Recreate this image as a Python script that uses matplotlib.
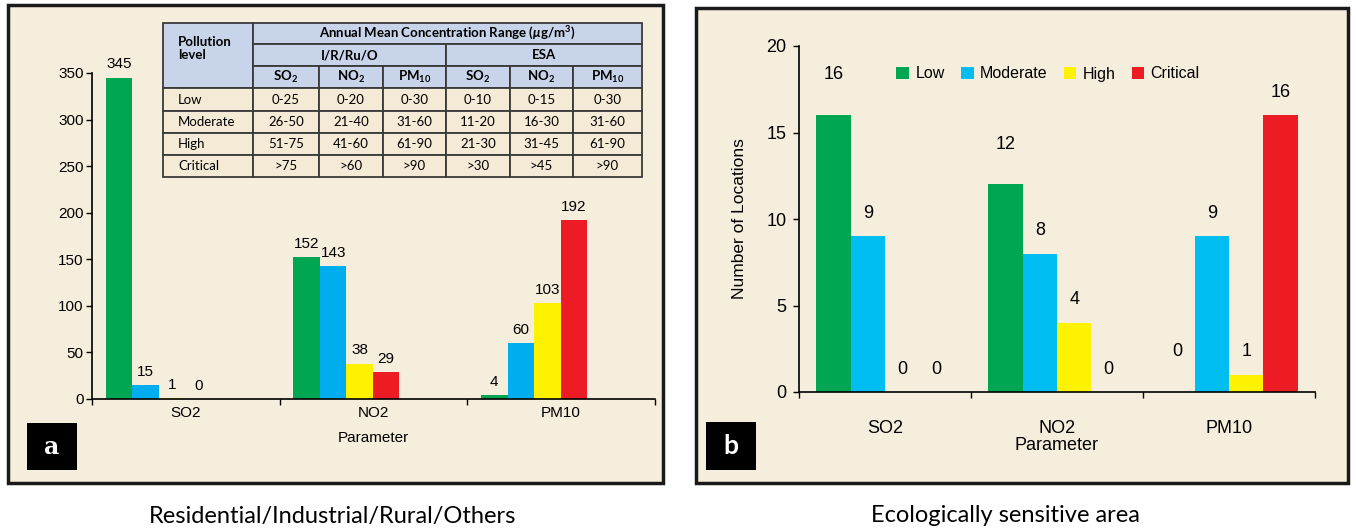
import numpy as np
import matplotlib.pyplot as plt
from matplotlib.patches import Rectangle, Patch

# datos
parametros = ['SO2', 'NO2', 'PM10']
niveles = ['Low', 'Moderate', 'High', 'Critical']

# a: Residential/Industrial/Rural/Others (filas = nivel, columnas = parametro)
valores_a = [[345, 152, 4],
             [15, 143, 60],
             [1, 38, 103],
             [0, 29, 192]]

# b: Ecologically sensitive area
valores_b = [[16, 12, 0],
             [9, 8, 9],
             [0, 4, 1],
             [0, 0, 16]]

# tabla de rangos
tabla_niveles = ['Low', 'Moderate', 'High', 'Critical']
tabla_cols = [r'SO$_\mathbf{2}$', r'NO$_\mathbf{2}$', r'PM$_\mathbf{10}$'] * 2
tabla_valores = [['0-25', '0-20', '0-30', '0-10', '0-15', '0-30'],
                 ['26-50', '21-40', '31-60', '11-20', '16-30', '31-60'],
                 ['51-75', '41-60', '61-90', '21-30', '31-45', '61-90'],
                 ['>75', '>60', '>90', '>30', '>45', '>90']]

colores_a = ['#00A651', '#00AEEF', '#FFF200', '#ED1C24']
colores_b = ['#00A651', '#00BEF2', '#FFF200', '#ED1C24']

plt.rcParams['font.family'] = ['Liberation Sans', 'DejaVu Sans']
plt.rcParams['mathtext.fontset'] = 'custom'
plt.rcParams['mathtext.rm'] = 'Lato'
plt.rcParams['mathtext.bf'] = 'Lato:bold'
plt.rcParams['mathtext.it'] = 'Lato:bold:italic'

W, H = 1356, 531
fig = plt.figure(figsize=(W / 100, H / 100), dpi=100)
fig.patch.set_facecolor('white')

crema = '#F6EEDC'


def caja(x0, y0, x1, y1, **kw):
    # rectangulo en pixeles de la figura (y hacia abajo)
    r = Rectangle((x0 / W, 1 - y1 / H), (x1 - x0) / W, (y1 - y0) / H,
                  transform=fig.transFigure, **kw)
    fig.add_artist(r)
    return r


# marcos de los paneles
caja(8, 5, 663, 483, facecolor=crema, edgecolor='#1a1a1a', lw=2.5, zorder=-2)
caja(696, 8, 1348, 483, facecolor=crema, edgecolor='#1a1a1a', lw=2.5, zorder=-2)

# etiquetas a / b
caja(27, 423, 77, 470, facecolor='black', edgecolor='none', zorder=-1)
caja(706, 422, 756, 470, facecolor='black', edgecolor='none', zorder=-1)
fig.text(52 / W, 1 - 447 / H, 'a', color='white', fontsize=17, fontweight='bold',
         family='DejaVu Serif', ha='center', va='center')
fig.text(731 / W, 1 - 446 / H, 'b', color='white', fontsize=19, fontweight='bold',
         family='Lato', ha='center', va='center')

# textos inferiores
fig.text(333 / W, 1 - 517 / H, 'Residential/Industrial/Rural/Others', fontsize=17,
         family='Lato', ha='center', va='center')
fig.text(1005 / W, 1 - 516 / H, 'Ecologically sensitive area', fontsize=17,
         family='Lato', ha='center', va='center')


def estilo_ejes(ax, ylim, yticks, fs, pad_x):
    ax.set_facecolor('none')
    for s in ['top', 'right']:
        ax.spines[s].set_visible(False)
    ax.spines['left'].set_linewidth(1.2)
    ax.spines['bottom'].set_linewidth(1.2)
    ax.set_xlim(-0.5, 2.5)
    ax.set_ylim(*ylim)
    ax.set_yticks(yticks)
    ax.tick_params(axis='y', direction='out', length=4, width=1, labelsize=fs, pad=2)
    ax.set_xticks([-0.5, 0.5, 1.5, 2.5])
    ax.set_xticklabels([])
    ax.tick_params(axis='x', which='major', direction='out', length=4, width=1)
    ax.set_xticks(np.arange(len(parametros)), minor=True)
    ax.set_xticklabels(parametros, minor=True)
    ax.tick_params(axis='x', which='minor', length=0, labelsize=fs, pad=pad_x)


# panel a
ax1 = fig.add_axes([92 / W, 1 - 399 / H, (655 - 92) / W, (399 - 73) / H])
x = np.arange(len(parametros))
ancho_a = 0.141
desp_a = [-0.356, -0.215, -0.074, 0.067]
for i, nivel in enumerate(niveles):
    ax1.bar(x + desp_a[i], valores_a[i], ancho_a, color=colores_a[i], label=nivel)
    for xi, v in zip(x + desp_a[i], valores_a[i]):
        ax1.annotate(str(v), (xi, v), xytext=(0, 9.5), textcoords='offset points',
                     ha='center', va='center', fontsize=11, annotation_clip=False)
estilo_ejes(ax1, (0, 350), np.arange(0, 351, 50), 11, 5)
ax1.set_xlabel('Parameter', fontsize=11, labelpad=8)

# panel b
ax2 = fig.add_axes([799 / W, 1 - 392 / H, (1315 - 799) / W, (392 - 46) / H])
ancho_b = 0.2
desp_b = [-0.3, -0.1, 0.1, 0.3]
for i, nivel in enumerate(niveles):
    ax2.bar(x + desp_b[i], valores_b[i], ancho_b, color=colores_b[i], label=nivel)
    off = 29 if i == 0 else 16.5
    for xi, v in zip(x + desp_b[i], valores_b[i]):
        ax2.annotate(str(v), (xi, v), xytext=(0, off), textcoords='offset points',
                     ha='center', va='center', fontsize=13, annotation_clip=False)
estilo_ejes(ax2, (0, 20), np.arange(0, 21, 5), 13, 20)
ax2.tick_params(axis='y', pad=5)
ax2.set_xlabel('Parameter', fontsize=13, labelpad=0)
ax2.set_ylabel('Number of Locations', fontsize=12.5, labelpad=14)

handles = [Patch(facecolor=c, edgecolor='none') for c in colores_b]
ax2.legend(handles, niveles, loc='center left', bbox_to_anchor=(882 / W, 1 - 74 / H),
           bbox_transform=fig.transFigure, ncol=4, frameon=False, fontsize=11.5,
           handlelength=0.8, handleheight=0.8, handletextpad=0.4, columnspacing=1.0)

# tabla
tx = [163, 253, 319, 383, 446, 510, 573, 642]
ty = [23, 44, 66, 88, 111, 133, 155, 177]
axt = fig.add_axes([163 / W, 1 - 177 / H, (642 - 163) / W, (177 - 23) / H], zorder=3)
axt.set_xlim(163, 642)
axt.set_ylim(177, 23)
axt.axis('off')
azul = '#C8D4EA'
celda = '#F5EAD6'
borde = '#3a3a3a'
lw = 1.3


def celda_rect(x0, y0, x1, y1, fc):
    axt.add_patch(Rectangle((x0, y0), x1 - x0, y1 - y0, facecolor=fc, edgecolor=borde,
                            lw=lw, clip_on=False))


celda_rect(tx[0], ty[0], tx[1], ty[3], azul)
celda_rect(tx[1], ty[0], tx[7], ty[1], azul)
celda_rect(tx[1], ty[1], tx[4], ty[2], azul)
celda_rect(tx[4], ty[1], tx[7], ty[2], azul)
for j in range(6):
    celda_rect(tx[j + 1], ty[2], tx[j + 2], ty[3], azul)
for r in range(4):
    for c in range(7):
        celda_rect(tx[c], ty[r + 3], tx[c + 1], ty[r + 4], celda)

fs_t = 9.5
axt.text(178, (ty[0] + ty[3]) / 2 - 7, 'Pollution\nlevel', fontsize=fs_t, family='Lato',
         fontweight='bold', ha='left', va='center', linespacing=1.1)
axt.text((tx[1] + tx[7]) / 2, (ty[0] + ty[1]) / 2,
         r'Annual Mean Concentration Range ($\mu$g/m$^\mathbf{3}$)', fontsize=fs_t,
         family='Lato', fontweight='bold', ha='center', va='center')
axt.text((tx[1] + tx[4]) / 2, (ty[1] + ty[2]) / 2, 'I/R/Ru/O', fontsize=fs_t,
         family='Lato', fontweight='bold', ha='center', va='center')
axt.text((tx[4] + tx[7]) / 2, (ty[1] + ty[2]) / 2, 'ESA', fontsize=fs_t,
         family='Lato', fontweight='bold', ha='center', va='center')
for j, t in enumerate(tabla_cols):
    axt.text((tx[j + 1] + tx[j + 2]) / 2, (ty[2] + ty[3]) / 2, t, fontsize=fs_t,
             family='Lato', fontweight='bold', ha='center', va='center')
for r in range(4):
    yc = (ty[r + 3] + ty[r + 4]) / 2
    axt.text(tx[0] + 15, yc, tabla_niveles[r], fontsize=fs_t, family='Lato',
             ha='left', va='center')
    for c in range(6):
        axt.text((tx[c + 1] + tx[c + 2]) / 2, yc, tabla_valores[r][c], fontsize=fs_t,
                 family='Lato', ha='center', va='center')

fig.savefig('out.png', dpi=100, facecolor='white')
